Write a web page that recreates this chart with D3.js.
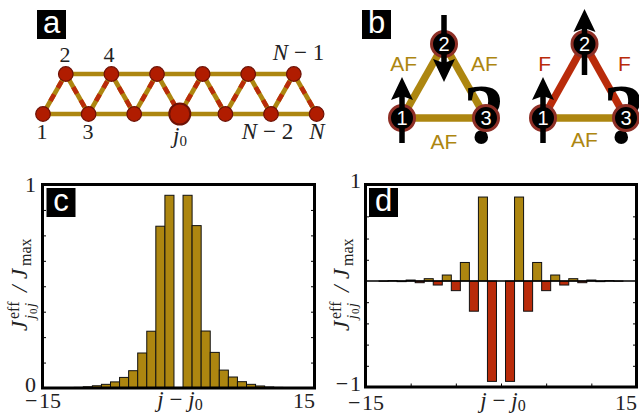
<!DOCTYPE html>
<html>
<head>
<meta charset="utf-8">
<style>
  html, body { margin: 0; padding: 0; background: #fff; }
  svg { display: block; }
  text { font-family: "Liberation Serif", serif; fill: #222; }
  .sans { font-family: "Liberation Sans", sans-serif; }
</style>
<script src="https://cdn.jsdelivr.net/npm/d3@7"></script>
</head>
<body>
<svg id="fig" width="639" height="414"></svg>
<script>
const GOLD = '#ad8610';
const RED = '#b92b0a';

// panel c and d bars, j - j0 from -13 to 13 (0 is empty)
const offsets = [-13, -12, -11, -10, -9, -8, -7, -6, -5, -4, -3, -2, -1, 0,
  1, 2, 3, 4, 5, 6, 7, 8, 9, 10, 11, 12, 13];
const valuesC = [0.001, 0.002, 0.003, 0.006, 0.011, 0.018, 0.03, 0.052, 0.085, 0.172, 0.279, 0.795, 0.947, 0,
  0.947, 0.798, 0.28, 0.175, 0.088, 0.054, 0.031, 0.018, 0.01, 0.005, 0.003, 0.002, 0.001];
const valuesD = [-0.002, 0.004, -0.006, 0.01, -0.016, 0.024, -0.038, 0.062, -0.091, 0.192, -0.285, 0.87, -0.947, 0,
  -0.947, 0.87, -0.285, 0.192, -0.091, 0.062, -0.038, 0.024, -0.016, 0.01, -0.006, 0.004, -0.002];
const yTicksC = [0.125, 0.25, 0.375, 0.5, 0.625, 0.75, 0.875];
const yTicksD = [0.67, 0.44, 0.22, -0.2, -0.4, -0.6, -0.8];
const xTicksD = [-10, -5, 0, 5, 10];

// panel a ladder: site position along the chain and row (0 lower, 1 upper)
const sites = [0, 1, 2, 3, 4, 5, 6, 7, 8, 9, 10, 11, 12];
const rows = [0, 1, 0, 1, 0, 1, 0, 1, 0, 1, 0, 1, 0];
const centerSite = 6;

// panel b triangles
const triSites = ['1', '2', '3'];
const triU = [0, 0.5, 1];
const triV = [0, 1, 0];
const triBonds = [[0, 1], [1, 2], [0, 2]];
const bondTypesLeft = ['AF', 'AF', 'AF'];
const bondTypesRight = ['F', 'F', 'AF'];

const svg = d3.select('#fig');

// ---- panel a
const ladderX = d3.scaleLinear().domain([0, 12]).range([43, 316.6]);
const ladderY = d3.scaleLinear().domain([0, 1]).range([114, 74]);
const a = svg.append('g');

d3.range(sites.length - 2).forEach(i => {
  a.append('line')
    .attr('x1', ladderX(sites[i])).attr('y1', ladderY(rows[i]))
    .attr('x2', ladderX(sites[i + 2])).attr('y2', ladderY(rows[i + 2]))
    .attr('stroke', GOLD).attr('stroke-width', 4.6);
});
d3.range(sites.length - 1).forEach(i => {
  const seg = a.append('g');
  ['base', 'dash'].forEach(kind => {
    seg.append('line')
      .attr('x1', ladderX(sites[i])).attr('y1', ladderY(rows[i]))
      .attr('x2', ladderX(sites[i + 1])).attr('y2', ladderY(rows[i + 1]))
      .attr('stroke', kind === 'base' ? GOLD : RED)
      .attr('stroke-width', 4.6)
      .attr('stroke-dasharray', kind === 'base' ? null : '7.5 7.5');
  });
});
a.selectAll('circle.site').data(sites).enter().append('circle')
  .attr('class', 'site')
  .attr('cx', d => ladderX(d))
  .attr('cy', (d, i) => ladderY(rows[i]))
  .attr('r', d => d === centerSite ? 10.5 : 7.3)
  .attr('fill', '#b01c00')
  .attr('stroke', '#6d1206')
  .attr('stroke-width', d => d === centerSite ? 2 : 1.2);

const ladderLabels = [
  ['2', 65, 62], ['4', 109, 62], ['1', 42, 139], ['3', 88, 139]
];
ladderLabels.forEach(l => {
  a.append('text').attr('x', l[1]).attr('y', l[2]).attr('text-anchor', 'middle')
    .attr('font-size', 22).text(l[0]);
});
const nLabel = (x, y, tail) => {
  const t = a.append('text').attr('x', x).attr('y', y).attr('text-anchor', 'middle').attr('font-size', 23);
  t.append('tspan').attr('font-style', 'italic').text('N');
  if (tail) t.append('tspan').text(tail);
};
nLabel(298.5, 60, ' \u2212 1');
nLabel(267.5, 139, ' \u2212 2');
nLabel(317, 139);
const j0 = a.append('text').attr('x', 180).attr('y', 143).attr('text-anchor', 'middle').attr('font-size', 23);
j0.append('tspan').attr('font-style', 'italic').text('j');
j0.append('tspan').attr('font-size', 15).attr('dy', 3).text('0');

// ---- panel b
function arrow(g, x, tail, tip) {
  const dir = tip < tail ? 1 : -1;
  g.append('line').attr('x1', x).attr('x2', x).attr('y1', tail).attr('y2', tip + dir * 15)
    .attr('stroke', '#000').attr('stroke-width', 5.5);
  const p = d3.path();
  p.moveTo(x, tip);
  p.lineTo(x + 11, tip + dir * 23);
  p.lineTo(x, tip + dir * 19);
  p.lineTo(x - 11, tip + dir * 23);
  p.closePath();
  g.append('path').attr('d', p.toString()).attr('fill', '#000');
}

function triangle(x0, x1, types, spinTail, spinTip, afLabelY) {
  const g = svg.append('g');
  const tx = d3.scaleLinear().domain([0, 1]).range([x0, x1]);
  const ty = d3.scaleLinear().domain([0, 1]).range([118, 44]);
  triBonds.forEach((b, i) => {
    g.append('line')
      .attr('x1', tx(triU[b[0]])).attr('y1', ty(triV[b[0]]))
      .attr('x2', tx(triU[b[1]])).attr('y2', ty(triV[b[1]]))
      .attr('stroke', types[i] === 'F' ? RED : GOLD)
      .attr('stroke-width', 7.5);
  });
  // bond names
  const nameX = [tx(0.02), tx(0.98), tx(0.5)];
  const nameY = [71, 71, afLabelY];
  types.forEach((t, i) => {
    g.append('text').attr('class', 'sans')
      .attr('x', nameX[i]).attr('y', nameY[i]).attr('text-anchor', 'middle')
      .attr('font-size', 21).style('fill', t === 'F' ? RED : GOLD).text(t);
  });
  // question mark sits behind site 3
  g.append('text').attr('x', tx(1) - 2).attr('y', 143).attr('text-anchor', 'middle')
    .attr('font-size', 84).attr('font-weight', 'bold').style('fill', '#000').text('?');
  triSites.forEach((s, i) => {
    g.append('circle').attr('cx', tx(triU[i])).attr('cy', ty(triV[i])).attr('r', 12.5)
      .attr('fill', '#000').attr('stroke', '#8e2f26').attr('stroke-width', 3);
  });
  arrow(g, tx(0), 143, 77);
  arrow(g, tx(0.5), spinTail, spinTip);
  triSites.forEach((s, i) => {
    g.append('text').attr('class', 'sans')
      .attr('x', tx(triU[i])).attr('y', ty(triV[i]) + 7).attr('text-anchor', 'middle')
      .attr('font-size', 20).style('fill', '#fff').text(s);
  });
}
triangle(402, 486, bondTypesLeft, 15, 82, 149);
triangle(543, 626, bondTypesRight, 75, 9, 147);

// ---- panels c, d
function yLabel(x) {
  const g = svg.append('g').attr('transform', `translate(${x},331) rotate(-90)`);
  const put = (str, u, v, size, italic) => g.append('text').attr('x', u).attr('y', v)
    .attr('font-size', size).attr('font-style', italic ? 'italic' : 'normal').text(str);
  put('J', 0, 0, 23, true);
  put('eff', 12, -8, 16);
  put('j', 12, 8, 15, true);
  put('0', 17, 10, 11);
  put('j', 24, 8, 15, true);
  put('/', 39, 0, 23, true);
  put('J', 52, 0, 23, true);
  put('max', 65, 4, 16);
}

function xLabel(x, y) {
  const t = svg.append('text').attr('x', x).attr('y', y).attr('text-anchor', 'middle').attr('font-size', 23);
  t.append('tspan').attr('font-style', 'italic').text('j');
  t.append('tspan').text(' \u2212 ');
  t.append('tspan').attr('font-style', 'italic').text('j');
  t.append('tspan').attr('font-size', 16).attr('dy', 3).text('0');
}

function barPanel(opts) {
  const x = d3.scaleLinear().domain([-15, 15]).range(opts.xr);
  const y = d3.scaleLinear().domain(opts.yd).range(opts.yr);
  const w = (opts.xr[1] - opts.xr[0]) / 30;
  const top = opts.yr[opts.yr.length - 1];
  const g = svg.append('g');

  const rowsOfBars = offsets.map((o, i) => ({ offset: o, value: opts.values[i] })).filter(d => d.value !== 0);
  g.selectAll('rect.bar').data(rowsOfBars).enter()
    .append('rect')
    .attr('class', 'bar')
    .attr('x', d => x(d.offset) - w / 2)
    .attr('y', d => Math.min(y(d.value), y(0)))
    .attr('width', w)
    .attr('height', d => Math.abs(y(d.value) - y(0)))
    .attr('fill', d => d.value > 0 ? GOLD : opts.neg)
    .attr('stroke', '#111')
    .attr('stroke-width', 1);

  // inside ticks
  const left = g.append('g').attr('transform', `translate(${opts.xr[0]},0)`)
    .call(d3.axisLeft(y).tickValues(opts.yTicks).tickSizeInner(-3.5).tickSizeOuter(0).tickFormat(''));
  const right = g.append('g').attr('transform', `translate(${opts.xr[1]},0)`)
    .call(d3.axisRight(y).tickValues(opts.yTicks).tickSizeInner(-3.5).tickSizeOuter(0).tickFormat(''));
  left.select('.domain').remove();
  right.select('.domain').remove();
  if (opts.xTicks) {
    const bottom = g.append('g').attr('transform', `translate(0,${opts.yr[0]})`)
      .call(d3.axisBottom(x).tickValues(opts.xTicks).tickSizeInner(-3.5).tickSizeOuter(0).tickFormat(''));
    bottom.select('.domain').remove();
    g.append('line').attr('x1', opts.xr[0]).attr('x2', opts.xr[1]).attr('y1', y(0)).attr('y2', y(0))
      .attr('stroke', '#000').attr('stroke-width', 1.5);
  }

  g.append('rect')
    .attr('x', opts.xr[0]).attr('y', top)
    .attr('width', opts.xr[1] - opts.xr[0])
    .attr('height', opts.yr[0] - top)
    .attr('fill', 'none').attr('stroke', '#000').attr('stroke-width', 3);

  // tick labels
  const xAxisLabels = g.append('g').attr('transform', `translate(0,${opts.xLabelY})`)
    .call(d3.axisBottom(x).tickValues([-15, 15]).tickSize(0).tickFormat(d => d < 0 ? '\u2212\u200a15' : '15'));
  xAxisLabels.select('.domain').remove();
  xAxisLabels.selectAll('text').attr('y', 0).attr('dy', 0)
    .attr('font-family', '"Liberation Serif", serif').attr('font-size', 22)
    .attr('text-anchor', d => d < 0 ? 'middle' : 'end')
    .style('fill', '#222');

  const yAxisLabels = g.append('g').attr('transform', `translate(${opts.yLabelX},0)`)
    .call(d3.axisLeft(y).tickValues(opts.yLabels).tickSize(0).tickFormat(d => d < 0 ? '\u2212\u200a1' : d));
  yAxisLabels.select('.domain').remove();
  yAxisLabels.selectAll('text').attr('x', 0).attr('dy', d => opts.yLabelDy(d))
    .attr('font-family', '"Liberation Serif", serif').attr('font-size', 22)
    .attr('text-anchor', 'end').style('fill', '#222');

  xLabel(opts.xLabelX, opts.xTitleY);
  yLabel(opts.yTitleX);
}

barPanel({
  xr: [42.5, 314.5], yd: [0, 1], yr: [388, 184.5],
  values: valuesC, neg: GOLD, yTicks: yTicksC,
  xLabelY: 408, yLabelX: 36, yLabels: [0, 1], yLabelDy: d => d === 0 ? 3 : 7,
  xLabelX: 180, xTitleY: 407, yTitleX: 27
});
barPanel({
  xr: [365.5, 636.5], yd: [-1, 0, 1], yr: [387, 281, 184.5],
  values: valuesD, neg: RED, yTicks: yTicksD, xTicks: xTicksD,
  xLabelY: 410, yLabelX: 361, yLabels: [-1, 1], yLabelDy: d => d < 0 ? 3 : 3,
  xLabelX: 503, xTitleY: 408, yTitleX: 349
});

// ---- panel tags
const tagNames = ['a', 'b', 'c', 'd'];
const tagX = [37, 362, 46.5, 369];
const tagY = [10, 10, 188, 188];
tagNames.forEach((t, i) => {
  svg.append('rect').attr('x', tagX[i]).attr('y', tagY[i]).attr('width', 29).attr('height', 29).attr('fill', '#000');
  svg.append('text').attr('class', 'sans')
    .attr('x', tagX[i] + 14.5).attr('y', tagY[i] + 23).attr('text-anchor', 'middle')
    .attr('font-size', 31).style('fill', '#fff').text(t);
});
</script>
</body>
</html>
